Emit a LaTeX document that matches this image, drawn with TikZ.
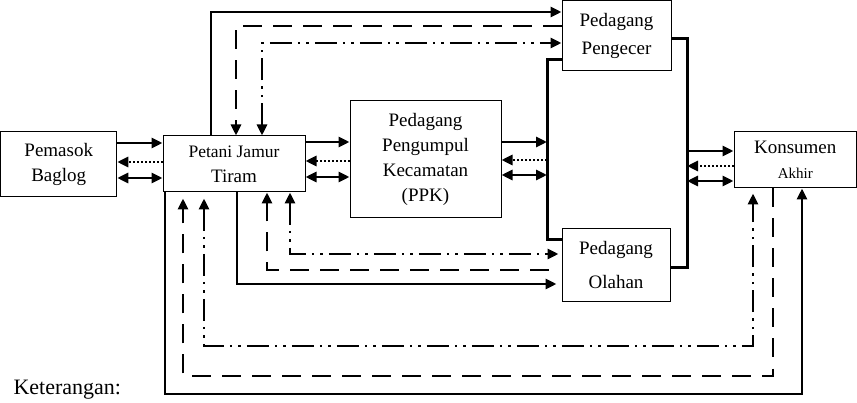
\documentclass[tikz,border=0pt]{standalone}
\usepackage{fontspec}
\setmainfont{Liberation Serif}
\usetikzlibrary{arrows.meta}
\tikzset{>={Triangle[length=11pt,width=10pt]}}
\tikzstyle{block}=[draw,rectangle,line width=1pt,align=center,inner sep=0pt,font=\fontsize{19}{25}\selectfont]
\tikzstyle{line}=[draw,line width=2.9pt]
\tikzstyle{busline}=[draw,line width=3pt]
\tikzstyle{solidline}=[line,->]
\tikzstyle{dashline}=[line,dash pattern=on 19pt off 11pt]
\tikzstyle{dashdotline}=[line,dash pattern=on 22pt off 6pt on 2.5pt off 6pt on 2.5pt off 6pt]
\tikzstyle{dotline}=[line,dash pattern=on 2pt off 2pt]

\begin{document}
\begin{tikzpicture}[x=1pt,y=-1pt]
    \useasboundingbox (0,0) rectangle (857,403);
    % First we draw the blocks
    \foreach \pos/\name/\w/\h/\txt in {{(58.75,164.5)/pemasok/116/65/Pemasok\\Baglog},
        {(234,164)/petani/142/56/{\fontsize{17.5}{24}\selectfont Petani Jamur\\Tiram}},
        {(425.5,159.5)/ppk/151/117/Pedagang\\Pengumpul\\Kecamatan\\(PPK)},
        {(616.5,35.75)/pengecer/109/70.5/Pedagang\\[3pt]Pengecer},
        {(616,265.5)/olahan/108/73/Pedagang\\[9pt]Olahan},
        {(795.25,160)/konsumen/122.5/56/Konsumen\\{\fontsize{15}{15}\selectfont Akhir}}}
        \node[block,minimum width=\w pt,minimum height=\h pt] (\name) at \pos {\txt};
    \node[anchor=base west,font=\fontsize{22}{22}\selectfont] (ket) at (10,395) {Keterangan:};
    % The two traders share a line on each side
    \coordinate (busl) at (547,60);
    \coordinate (busr) at (687,39);
    \path[busline] (pengecer.west |- busl) -- (busl) -- (busl |- 0,240) -- (olahan.west |- 0,240);
    \path[busline] (pengecer.east |- busr) -- (busr) -- (busr |- 0,268) -- (olahan.east |- 0,268);
    % Connect blocks side by side
    \foreach \from/\to/\ya/\yb/\yc in {pemasok.east/petani.west/143/162/178,
        petani.east/ppk.west/142/161/177, ppk.east/busl/142/160/175,
        busr/konsumen.west/151/166/181} {
        \path[solidline] (\from |- 0,\ya) -- (\to |- 0,\ya);
        \path[dotline,->] (\to |- 0,\yb) -- (\from |- 0,\yb);
        \path[line,<->] (\from |- 0,\yc) -- (\to |- 0,\yc);
    }
    % Petani to pengecer
    \path[solidline] (petani.north -| 211,0) |- (pengecer.west |- 0,12);
    \path[dashline,->] (pengecer.west |- 0,26) -| (petani.north -| 236,0);
    \path[dashdotline,<->] (petani.north -| 262,0) |- (pengecer.west |- 0,43);
    % Petani to olahan
    \path[solidline,shorten >=5pt] (petani.south -| 237,0) |- (olahan.west |- 0,284);
    \path[dashline,->,shorten <=13pt] (olahan.west |- 0,270) -| (petani.south -| 267,0);
    \path[dashdotline,<->,shorten >=3pt] (petani.south -| 290,0) |- (olahan.west |- 0,254);
    % Petani to konsumen
    \path[solidline] (petani.south -| 165,0) -- (165,394) -| (konsumen.south -| 802,0);
    \path[dashline,->,shorten >=6pt] (konsumen.south -| 773,0) -- (773,376) -| (petani.south -| 183,0);
    \path[dashdotline,<->,shorten >=5pt,shorten <=6pt] (petani.south -| 204,0) -- (204,346) -| (konsumen.south -| 753,0);
\end{tikzpicture}
\end{document}
